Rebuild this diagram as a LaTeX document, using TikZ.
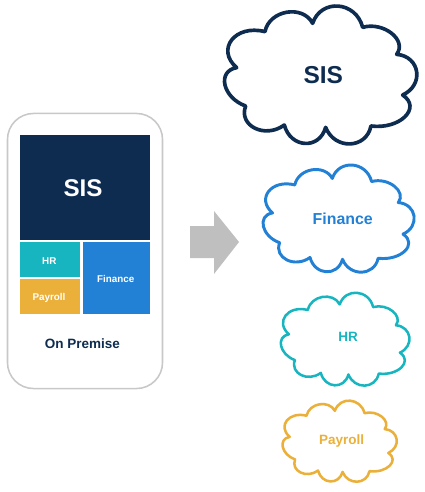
\documentclass[tikz,border=0pt]{standalone}
\usepackage{fontspec}
\setmainfont{Liberation Sans}
\usetikzlibrary{positioning}
\definecolor{sisnavy}{HTML}{0D2C4F}
\definecolor{hrteal}{HTML}{17B5BF}
\definecolor{payrollgold}{HTML}{EAB03A}
\definecolor{financeblue}{HTML}{2280D5}
\definecolor{shellgrey}{HTML}{C8C8C8}
\definecolor{arrowgrey}{HTML}{BFBFBF}
\begin{document}
\begin{tikzpicture}[
      x=0.025cm, y=-0.025cm,
      block/.style={rectangle, inner sep=0pt},
      blocktext/.style={text=white, align=center, font=\bfseries\fontsize{7}{9}\selectfont},
      shell/.style={rectangle, rounded corners=0.65cm, draw=shellgrey, fill=white, line width=1.1pt, minimum width=3.875cm, minimum height=6.875cm},
      cloudtext/.style={align=center, font=\bfseries\fontsize{9.6}{12}\selectfont},
      cloudline/.pic={
        \draw[pic actions, line join=round] (-167.5,-130)
          .. controls (-154.5,-195) and (-54.5,-212) .. (-24.5,-155)
          .. controls (0.5,-230) and (105.5,-222) .. (125.5,-143)
          .. controls (189,-161) and (260,-104) .. (227.5,-62)
          .. controls (298,-56) and (311,30) .. (245.5,60)
          .. controls (304,99) and (237,164) .. (150.5,153)
          .. controls (136.6,222.6) and (41.4,225.4) .. (14.5,157)
          .. controls (-4,225) and (-91,220) .. (-109.5,150)
          .. controls (-167,192.4) and (-248,152.6) .. (-225.5,93)
          .. controls (-294,68.7) and (-313,-11.7) .. (-252.5,-22)
          .. controls (-316,-77) and (-257,-153) .. (-167.5,-130) -- cycle;
      },
    ]
    \useasboundingbox (0,0) rectangle (424,492);

    % on premise side
    \node[shell] (premise) at (85,251) {};
    \node[block, fill=sisnavy, minimum width=3.25cm, minimum height=2.625cm] (sisbox) at (85,187.5) {};
    \node[blocktext, font=\bfseries\fontsize{17.2}{20}\selectfont] (sisboxlabel) at (83,188.5) {SIS};
    \node[block, fill=hrteal, minimum width=1.5cm, minimum height=0.875cm] (hrbox) at (50,259.5) {};
    \node[blocktext] (hrboxlabel) at (49.3,261) {HR};
    \node[block, fill=payrollgold, minimum width=1.5cm, minimum height=0.875cm] (payrollbox) at (50,296.5) {};
    \node[blocktext] (payrollboxlabel) at (49,297.5) {Payroll};
    \node[block, fill=financeblue, minimum width=1.675cm, minimum height=1.8cm] (financebox) at (116.5,278) {};
    \node[blocktext] (financeboxlabel) at (115.8,279) {Finance};
    \node[text=sisnavy, font=\bfseries\fontsize{9.6}{12}\selectfont] (premiselabel) at (82.5,344) {On Premise};

    \fill[arrowgrey] (190,226) -- (214,226) -- (214,211) -- (239,242) -- (214,274) -- (214,258) -- (190,258) -- cycle;

    % clouds
    \pic[draw=sisnavy, line width=2.6pt, scale=0.3333] at (320.8,75) {cloudline};
    \node[cloudtext, text=sisnavy, font=\bfseries\fontsize{17.4}{20}\selectfont] (sislabel) at (323.3,75.5) {SIS};

    \pic[draw=financeblue, line width=2.1pt, xscale=0.262, yscale=0.259] at (338.7,218.6) {cloudline};
    \node[cloudtext, text=financeblue, font=\bfseries\fontsize{11.3}{14}\selectfont] (financelabel) at (342.7,218.6) {Finance};

    \pic[draw=hrteal, line width=1.8pt, xscale=0.223, yscale=0.2246] at (345.2,339.2) {cloudline};
    \node[cloudtext, text=hrteal] (hrlabel) at (348,337.2) {HR};

    \pic[draw=payrollgold, line width=1.8pt, xscale=0.198, yscale=0.196] at (339.7,441.2) {cloudline};
    \node[cloudtext, text=payrollgold] (payrolllabel) at (341.7,441.5) {Payroll};
  \end{tikzpicture}
\end{document}
